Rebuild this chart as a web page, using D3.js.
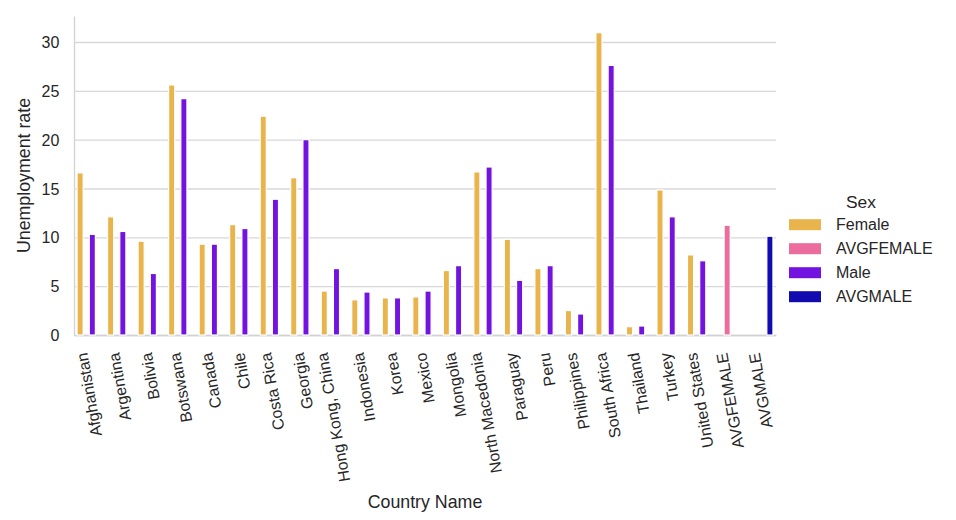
<!DOCTYPE html>
<html lang="en">
<head>
<meta charset="UTF-8" />
<title>Unemployment rate by country and sex</title>
<script src="https://d3js.org/d3.v7.min.js"></script>
<style>
  body { margin: 0; background: #fff; }
  svg { font-family: "Liberation Sans", Arial, sans-serif; }
  .tick text { fill: #262626; font-size: 16px; }
  .axis-label { fill: #262626; font-size: 17.8px; }
  .legend text { fill: #262626; font-size: 16px; }
</style>
</head>
<body>
<div id="chart"></div>
<script>
// data
const countries = ["Afghanistan", "Argentina", "Bolivia", "Botswana", "Canada", "Chile",
  "Costa Rica", "Georgia", "Hong Kong, China", "Indonesia", "Korea", "Mexico", "Mongolia",
  "North Macedonia", "Paraguay", "Peru", "Philippines", "South Africa", "Thailand",
  "Turkey", "United States"];
const femaleRates = [16.6, 12.1, 9.6, 25.6, 9.3, 11.3, 22.4, 16.1, 4.5, 3.6, 3.8, 3.9, 6.6,
  16.7, 9.8, 6.8, 2.5, 30.95, 0.85, 14.85, 8.2];
const maleRates = [10.3, 10.6, 6.3, 24.2, 9.3, 10.9, 13.9, 20.0, 6.8, 4.4, 3.8, 4.5, 7.1,
  17.2, 5.6, 7.1, 2.15, 27.6, 0.92, 12.1, 7.6];
const avgFemale = 11.24;
const avgMale = 10.11;
const sexLevels = ["Female", "AVGFEMALE", "Male", "AVGMALE"];
const sexColors = ["#e8b44b", "#ec6c9d", "#7213e0", "#110bb0"];
const yTicks = [0, 5, 10, 15, 20, 25, 30];

const categories = countries.concat(["AVGFEMALE", "AVGMALE"]);
const rows = [];
countries.forEach((c, i) => {
  rows.push({ cat: c, sex: "Female", value: femaleRates[i] });
  rows.push({ cat: c, sex: "Male", value: maleRates[i] });
});
rows.push({ cat: "AVGFEMALE", sex: "AVGFEMALE", value: avgFemale });
rows.push({ cat: "AVGMALE", sex: "AVGMALE", value: avgMale });

const W = 956, H = 520;
const plotL = 74, plotR = 776, plotT = 16, plotB = 335;

const svg = d3.select("#chart").append("svg")
  .attr("width", W).attr("height", H);

const x = d3.scaleBand().domain(categories).range([plotL, plotR]).padding(0);
const step = x.step();
const xSex = d3.scaleBand().domain(sexLevels).range([0.1 * step, 0.9 * step]).padding(0);
const y = d3.scaleLinear().domain([0, 32.66]).range([plotB, plotT]);
const color = d3.scaleOrdinal().domain(sexLevels).range(sexColors);

// y axis + grid
const yAxis = svg.append("g")
  .attr("transform", `translate(${plotL},0)`)
  .call(d3.axisLeft(y).tickValues(yTicks).tickSize(-(plotR - plotL)).tickSizeOuter(0).tickPadding(14.7));
yAxis.select(".domain").attr("stroke", "#d2d2d2").attr("stroke-width", 1.3);
yAxis.selectAll(".tick line").attr("stroke", "#d8d8d8").attr("stroke-width", 1.3);
yAxis.selectAll(".tick text").attr("dy", "0.35em");

// x axis
const xAxis = svg.append("g")
  .attr("transform", `translate(0,${plotB})`)
  .call(d3.axisBottom(x).tickSize(0).tickSizeOuter(0));
xAxis.select(".domain").attr("stroke", "#d2d2d2").attr("stroke-width", 1.3);
xAxis.selectAll(".tick text")
  .attr("text-anchor", "end")
  .attr("dominant-baseline", "central")
  .attr("y", 0).attr("dy", null)
  .each(function () {
    const L = this.getComputedTextLength();
    d3.select(this).attr("transform", `translate(${-0.087 * L},18) rotate(-100)`);
  });

// bars
svg.append("g").selectAll("rect")
  .data(rows)
  .join("rect")
  .attr("x", d => x(d.cat) + xSex(d.sex))
  .attr("width", xSex.bandwidth())
  .attr("y", d => y(d.value))
  .attr("height", d => y(0) - y(d.value))
  .attr("fill", d => color(d.sex))
  .attr("stroke", "#fff")
  .attr("stroke-width", 1.2);

// axis labels
svg.append("text")
  .attr("class", "axis-label")
  .attr("x", (plotL + plotR) / 2)
  .attr("y", 508)
  .attr("text-anchor", "middle")
  .text("Country Name");

svg.append("text")
  .attr("class", "axis-label")
  .attr("transform", `translate(30,${(plotT + plotB) / 2}) rotate(-90)`)
  .attr("text-anchor", "middle")
  .text("Unemployment rate");

// legend
const legend = svg.append("g").attr("class", "legend");
legend.append("text")
  .attr("x", 861).attr("y", 202)
  .attr("text-anchor", "middle")
  .attr("dominant-baseline", "central")
  .style("font-size", "17.4px")
  .text("Sex");
sexLevels.forEach((s, i) => {
  const cy = 224.7 + i * 24;
  legend.append("rect")
    .attr("x", 789).attr("y", cy - 5.5)
    .attr("width", 32).attr("height", 11)
    .attr("fill", color(s));
  legend.append("text")
    .attr("x", 836).attr("y", cy)
    .attr("dominant-baseline", "central")
    .text(s);
});
</script>
</body>
</html>
